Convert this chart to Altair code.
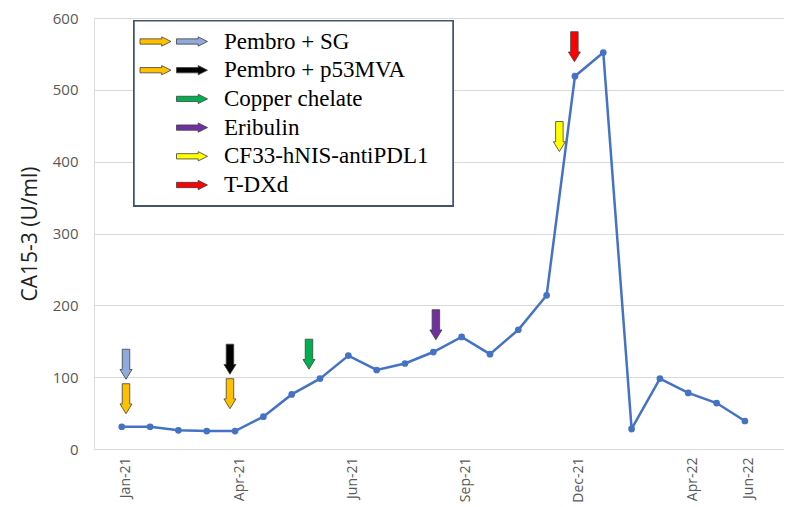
import altair as alt
import pandas as pd

# ---- data ----
idx = list(range(23))
ca153 = [31, 31, 26, 25, 25, 45, 76, 98, 130, 110, 119, 135, 156, 132, 166, 214,
         519, 552, 28, 98, 78, 64, 39]
tick_pos = [0, 4, 8, 12, 16, 20, 22]
tick_lab = ["Jan-21", "Apr-21", "Jun-21", "Sep-21", "Dec-21", "Apr-22", "Jun-22"]

# treatment arrows (position along the series index, value level of arrow centre)
arrow_x = [0.15, 0.15, 3.82, 3.82, 6.61, 11.09, 15.45, 15.98]
arrow_y = [118, 70, 125, 77, 132, 173, 435, 560]
arrow_c = ["#8FAADC", "#FFC000", "#000000", "#FFC000", "#00B050", "#7030A0", "#FFFF00", "#FF0000"]

legend_labels = ["Pembro + SG", "Pembro + p53MVA", "Copper chelate", "Eribulin",
                 "CF33-hNIS-antiPDL1", "T-DXd"]
legend_colors = ["#8FAADC", "#000000", "#00B050", "#7030A0", "#FFFF00", "#FF0000"]
legend_extra = ["#FFC000", "#FFC000", None, None, None, None]

# ---- frames ----
df = pd.DataFrame({"i": idx, "v": ca153})
arr = pd.DataFrame({"x": arrow_x, "y": arrow_y, "c": arrow_c})

row_y = [23.5 + 28.7 * k for k in range(len(legend_labels))]
leg_txt = pd.DataFrame({"px": [130] * len(legend_labels), "py": row_y, "t": legend_labels})
la_px, la_py, la_c = [], [], []
for k, c in enumerate(legend_colors):
    la_px.append(98); la_py.append(row_y[k]); la_c.append(c)
    if legend_extra[k]:
        la_px.append(61.5); la_py.append(row_y[k]); la_c.append(legend_extra[k])
leg_arr = pd.DataFrame({"px": la_px, "py": la_py, "c": la_c})

DOWN = "M-0.25,-1L0.25,-1L0.25,0.35L0.4,0.35L0,1L-0.4,0.35L-0.25,0.35Z"
RIGHT = "M-1,-0.17L0.4,-0.17L0.4,-0.3L1,0L0.4,0.3L0.4,0.17L-1,0.17Z"

label_expr = "{" + ",".join(f"'{p}':'{l}'" for p, l in zip(tick_pos, tick_lab)) + "}[datum.value]"

xscale = alt.Scale(domain=[-0.98, 23.38], nice=False, zero=False)
yscale = alt.Scale(domain=[0, 600], nice=False)

line = alt.Chart(df).mark_line(color="#4472C4", strokeWidth=2.5).encode(
    x=alt.X("i:Q", scale=xscale,
            axis=alt.Axis(values=tick_pos, labelExpr=label_expr, labelAngle=270,
                          grid=False, domain=False, ticks=False, labelPadding=8,
                          labelOffset=4, labelFontSize=14, labelColor="#595959",
                          labelFont="Open Sans", title=None)),
    y=alt.Y("v:Q", scale=yscale,
            axis=alt.Axis(values=[0, 100, 200, 300, 400, 500, 600], grid=True,
                          gridColor="#d9d9d9", gridWidth=1.2, domain=False, ticks=False,
                          labelPadding=16, labelFontSize=15, labelColor="#595959",
                          labelFont="Open Sans", title="CA15-3 (U/ml)",
                          titleFont="Open Sans", titleFontSize=21, titleFontWeight="normal",
                          titleColor="#222222", titlePadding=12)),
)
pts = alt.Chart(df).mark_point(filled=True, color="#4472C4", size=45, opacity=1).encode(
    x=alt.X("i:Q", scale=xscale), y=alt.Y("v:Q", scale=yscale))

arrows = alt.Chart(arr).mark_point(shape=DOWN, size=900, filled=True, opacity=1,
                                   stroke="#404040", strokeWidth=0.8).encode(
    x=alt.X("x:Q", scale=xscale), y=alt.Y("y:Q", scale=yscale),
    fill=alt.Color("c:N", scale=None))

box = alt.Chart(df).mark_rect(fill="white", stroke="#44546A", strokeWidth=1.5).encode(
    x=alt.value(40), x2=alt.value(359), y=alt.value(2.7), y2=alt.value(187.7))

leg_a = alt.Chart(leg_arr).mark_point(shape=RIGHT, size=961, filled=True, opacity=1,
                                      stroke="#404040", strokeWidth=0.8).encode(
    x=alt.X("px:Q", scale=None), y=alt.Y("py:Q", scale=None),
    fill=alt.Color("c:N", scale=None))

leg_t = alt.Chart(leg_txt).mark_text(align="left", baseline="middle", font="Liberation Serif",
                                     fontSize=23, color="#000000").encode(
    x=alt.X("px:Q", scale=None), y=alt.Y("py:Q", scale=None), text="t:N")

chart = alt.layer(line, pts, arrows, box, leg_a, leg_t).properties(
    width=690, height=431,
    autosize=alt.AutoSizeParams(type="none"),
    padding={"left": 86, "top": 10, "right": 0, "bottom": 58},
).configure_view(stroke=None).configure(background="white")

chart.save("out.html", embed_options={"renderer": "svg", "actions": False})
